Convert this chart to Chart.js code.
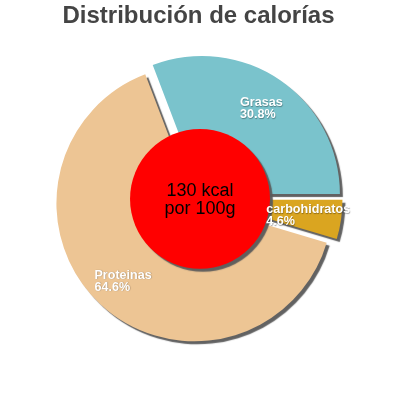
<!DOCTYPE html>
<html>
<head>
<meta charset="utf-8">
<script src="https://cdn.jsdelivr.net/npm/chart.js@4/dist/chart.umd.min.js"></script>
<style>
  html, body { margin: 0; padding: 0; background: #fff; }
  #c { display: block; }
</style>
</head>
<body>
<canvas id="c" width="400" height="400"></canvas>
<script>
const titleText = 'Distribución de calorías';
const categories = ['Grasas', 'carbohidratos', 'Proteinas'];
const percentages = [30.8, 4.6, 64.6];
const sliceColors = ['#7ac3cc', '#daa520', '#edc594'];
const centerLines = ['130 kcal', 'por 100g'];

const FONT = '"Liberation Sans", Arial, sans-serif';
const sliceShift = 6;

const explodePlugin = {
  id: 'explode',
  beforeDatasetDraw(chart, args) {
    const ctx = chart.ctx;
    args.meta.data.forEach((arc) => {
      const mid = (arc.startAngle + arc.endAngle) / 2;
      ctx.save();
      ctx.translate(Math.cos(mid) * sliceShift, Math.sin(mid) * sliceShift);
      ctx.shadowColor = 'rgba(90,90,90,0.95)';
      ctx.shadowOffsetX = 3;
      ctx.shadowOffsetY = 3;
      ctx.shadowBlur = 1;
      arc.draw(ctx, chart.chartArea);
      ctx.restore();
    });
    return false;
  },
  afterDatasetsDraw(chart) {
    const ctx = chart.ctx;
    const arcs = chart.getDatasetMeta(0).data;
    const cx = arcs[0].x, cy = arcs[0].y, R = arcs[0].outerRadius;
    // center disc
    ctx.save();
    ctx.shadowColor = 'rgba(90,90,90,0.95)';
    ctx.shadowOffsetX = 3;
    ctx.shadowOffsetY = 3;
    ctx.shadowBlur = 1;
    ctx.beginPath();
    ctx.arc(cx + 1.5, cy, R * 0.507, 0, Math.PI * 2);
    ctx.fillStyle = '#ff0000';
    ctx.fill();
    ctx.restore();

    // slice labels
    ctx.save();
    ctx.font = 'bold 12.6px ' + FONT;
    ctx.textAlign = 'left';
    ctx.textBaseline = 'alphabetic';
    ctx.fillStyle = '#ffffff';
    ctx.shadowColor = 'rgba(0,0,0,0.35)';
    ctx.shadowOffsetX = 0.5;
    ctx.shadowOffsetY = 0.5;
    ctx.shadowBlur = 1;
    arcs.forEach((arc, i) => {
      const mid = (arc.startAngle + arc.endAngle) / 2;
      const r = R * 0.76 + sliceShift;
      const px = cx + Math.cos(mid) * r;
      const py = cy + Math.sin(mid) * r;
      const l1 = categories[i];
      const l2 = percentages[i].toFixed(1) + '%';
      const w = Math.max(ctx.measureText(l1).width, ctx.measureText(l2).width);
      const x0 = px - w / 2;
      ctx.fillText(l1, x0, py - 1.5);
      ctx.fillText(l2, x0, py + 10.5);
    });
    ctx.restore();

    // center text
    ctx.save();
    ctx.font = '18px ' + FONT;
    ctx.textAlign = 'center';
    ctx.textBaseline = 'alphabetic';
    ctx.fillStyle = '#000000';
    ctx.fillText(centerLines[0], cx + 1.5, cy - 3);
    ctx.fillText(centerLines[1], cx + 1.5, cy + 15);
    ctx.restore();
  }
};

new Chart(document.getElementById('c'), {
  type: 'pie',
  data: {
    labels: categories,
    datasets: [{
      data: percentages,
      backgroundColor: sliceColors,
      borderWidth: 0
    }]
  },
  options: {
    responsive: false,
    animation: false,
    devicePixelRatio: 1,
    rotation: 90 - percentages[0] * 3.6,
    radius: 138,
    layout: { padding: { top: 0, bottom: 33, left: 0, right: 3 } },
    plugins: {
      legend: { display: false },
      tooltip: { enabled: false },
      title: {
        display: true,
        text: titleText,
        color: '#444444',
        font: { family: FONT, size: 24, weight: 'bold', lineHeight: 1.2 },
        padding: { top: 2, bottom: 0 }
      }
    }
  },
  plugins: [explodePlugin]
});
</script>
</body>
</html>
